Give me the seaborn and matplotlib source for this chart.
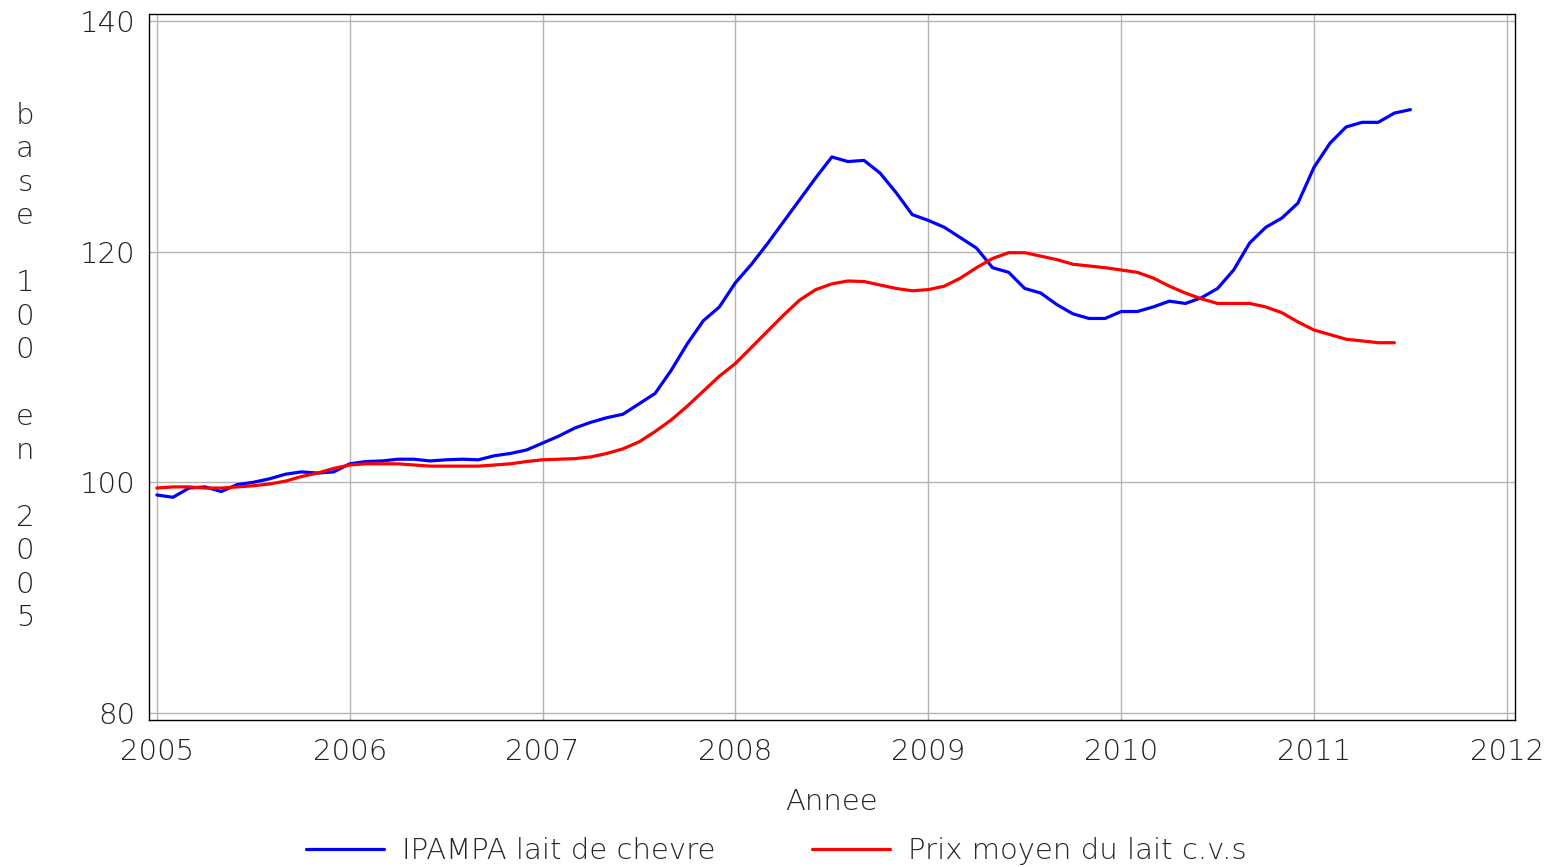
import numpy as np
import pandas as pd
import matplotlib
matplotlib.use("Agg")
import matplotlib.pyplot as plt
import seaborn as sns

# monthly series, jan 2005 onward
IPAMPA = [
    98.9, 98.7, 99.5, 99.6, 99.2, 99.8, 100.0, 100.3, 100.7, 100.9, 100.8, 100.9,
    101.6, 101.8, 101.85, 102.0, 102.0, 101.85, 101.95, 102.0, 101.95, 102.3, 102.5, 102.8,
    103.4, 104.0, 104.7, 105.2, 105.6, 105.9, 106.8, 107.7, 109.7, 112.0, 114.0, 115.2,
    117.3, 118.9, 120.7, 122.6, 124.5, 126.4, 128.2, 127.8, 127.9, 126.8, 125.1, 123.2,
    122.7, 122.1, 121.2, 120.3, 118.6, 118.2, 116.8, 116.4, 115.4, 114.6, 114.2, 114.2,
    114.8, 114.8, 115.2, 115.7, 115.5, 116.0, 116.8, 118.4, 120.75, 122.1, 122.9, 124.2,
    127.3, 129.4, 130.8, 131.2, 131.2, 132.0, 132.3,
]
PRIX_LAIT = [
    99.5, 99.6, 99.6, 99.5, 99.5, 99.6, 99.7, 99.85, 100.1, 100.5, 100.8, 101.2,
    101.5, 101.6, 101.6, 101.6, 101.5, 101.4, 101.4, 101.4, 101.4, 101.5, 101.6, 101.8,
    101.95, 102.0, 102.05, 102.2, 102.5, 102.9, 103.5, 104.4, 105.4, 106.6, 107.9, 109.2,
    110.3, 111.7, 113.1, 114.5, 115.8, 116.7, 117.2, 117.45, 117.4, 117.1, 116.8, 116.6,
    116.7, 117.0, 117.7, 118.6, 119.4, 119.9, 119.9, 119.6, 119.3, 118.9, 118.75, 118.6,
    118.4, 118.2, 117.7, 117.0, 116.4, 115.9, 115.5, 115.5, 115.5, 115.2, 114.7, 113.9,
    113.2, 112.8, 112.4, 112.25, 112.1, 112.1,
]
SERIES = ["IPAMPA lait de chevre", "Prix moyen du lait c.v.s"]
COLORS = ["#0000ff", "#ff0000"]
X_TICKS = list(range(2005, 2013))
Y_TICKS = [80, 100, 120, 140]
Y_LABEL = "base 100 en 2005"

frames = []
for name, vals in zip(SERIES, [IPAMPA, PRIX_LAIT]):
    frames.append(pd.DataFrame({
        "annee": 2005 + np.arange(len(vals)) / 12.0,
        "valeur": vals,
        "serie": name,
    }))
df = pd.concat(frames, ignore_index=True)

sns.set_style("white")
plt.rcParams["font.family"] = ["DejaVu Sans"]
plt.rcParams["font.weight"] = "light"

TXT = "#222222"
FS = 21

fig = plt.figure(figsize=(15.52, 8.67), dpi=100)
ax = fig.add_axes([0.096, 0.1696, 0.880, 0.8144])

sns.lineplot(data=df, x="annee", y="valeur", hue="serie", palette=COLORS,
             linewidth=2.3, ax=ax)

ax.set_xlim(2004.959, 2012.041)
ax.set_ylim(79.4, 140.6)
ax.set_xticks(X_TICKS)
ax.set_yticks(Y_TICKS)
ax.grid(True, color="#b4b4b4", linewidth=1.0)
ax.set_axisbelow(True)
for s in ax.spines.values():
    s.set_color("black")
    s.set_linewidth(1.0)
ax.tick_params(axis="both", direction="out", length=6, width=1, color="black",
               labelsize=FS, labelcolor=TXT)
ax.tick_params(axis="x", pad=7)
ax.tick_params(axis="y", pad=4)

ax.set_xlabel("Annee", fontsize=FS, labelpad=16, color=TXT, fontweight="light")
ax.set_ylabel("\n".join(Y_LABEL), fontsize=FS, rotation=0, va="center",
              ha="center", color=TXT, linespacing=1.25, fontweight="light")
ax.yaxis.set_label_coords(-0.0908, 0.5)

sns.move_legend(ax, "center", bbox_to_anchor=(0.5, 0.018),
                bbox_transform=fig.transFigure, ncol=2, frameon=False,
                title=None, fontsize=FS, handlelength=2.7, handletextpad=0.6,
                columnspacing=3.3)

fig.savefig("out.png", dpi=100)
